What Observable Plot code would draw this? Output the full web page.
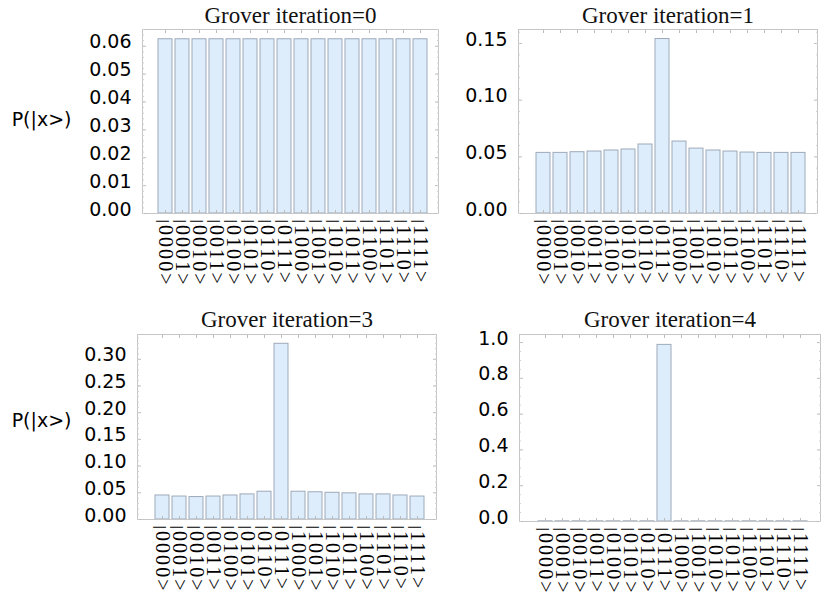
<!DOCTYPE html>
<html><head><meta charset="utf-8">
<script src="https://cdn.jsdelivr.net/npm/d3@7"></script>
<script src="https://cdn.jsdelivr.net/npm/@observablehq/plot@0.6"></script>
<style>
body{margin:0;background:#fff;}
#wrap{position:relative;width:831px;height:602px;overflow:hidden;background:#fff;}
#wrap svg{position:absolute;}
</style></head><body><div id="wrap"></div>
<script>
// ---- data ----
const states = ["|0000>","|0001>","|0010>","|0011>","|0100>","|0101>","|0110>","|0111>",
                "|1000>","|1001>","|1010>","|1011>","|1100>","|1101>","|1110>","|1111>"];
const iter0 = [0.0625,0.0625,0.0625,0.0625,0.0625,0.0625,0.0625,0.0625,
               0.0625,0.0625,0.0625,0.0625,0.0625,0.0625,0.0625,0.0625];
const iter1 = [0.0535,0.0535,0.0541,0.0547,0.0556,0.0565,0.0609,0.154,
               0.0635,0.0573,0.0556,0.0547,0.0538,0.0535,0.0535,0.0535];
const iter3 = [0.045,0.043,0.042,0.043,0.045,0.047,0.052,0.329,
               0.052,0.051,0.050,0.049,0.047,0.047,0.045,0.043];
const iter4 = [0.001,0.001,0.001,0.001,0.001,0.001,0.001,0.987,
               0.001,0.001,0.001,0.001,0.001,0.001,0.001,0.001];
const titles = ["Grover iteration=0","Grover iteration=1","Grover iteration=3","Grover iteration=4"];
const yLabel = "P(|x>)";
const ticks0 = [0,0.01,0.02,0.03,0.04,0.05,0.06];
const ticks1 = [0,0.05,0.10,0.15];
const ticks3 = [0,0.05,0.10,0.15,0.20,0.25,0.30];
const ticks4 = [0,0.2,0.4,0.6,0.8,1.0];

// ---- layout ----
const panels = [
  {values: iter0, title: titles[0], ticks: ticks0, fmt: ".2f", minor: 0.002, ymax: 0.066,
   left: 0, top: 0, width: 445, height: 300, mL: 142, mR: 7, mT: 29, mB: 87, ylab: true, ylabDy: -2, tDy: -7},
  {values: iter1, title: titles[1], ticks: ticks1, fmt: ".2f", minor: 0.01, ymax: 0.1624,
   left: 445, top: 0, width: 386, height: 300, mL: 73, mR: 14, mT: 29, mB: 87, ylab: false, tDy: -7},
  {values: iter3, title: titles[2], ticks: ticks3, fmt: ".2f", minor: 0.01, ymax: 0.3464,
   left: 0, top: 300, width: 445, height: 302, mL: 137, mR: 9, mT: 34, mB: 83, ylab: true, ylabDy: -6, tDy: -8},
  {values: iter4, title: titles[3], ticks: ticks4, fmt: ".1f", minor: 0.05, ymax: 1.045,
   left: 445, top: 300, width: 386, height: 302, mL: 74, mR: 11, mT: 34, mB: 81, ylab: false, tDy: -8}
];

const wrap = document.getElementById("wrap");
const sans = "DejaVu Sans, Liberation Sans, sans-serif";
const serif = "Liberation Serif, DejaVu Serif, serif";
const tickGrey = "#bcbcbc";

for (const c of panels) {
  const data = states.map((s, i) => ({state: s, p: c.values[i]}));
  const minorTicks = d3.range(0, c.ymax + 1e-9, c.minor);
  const marks = [
    Plot.barY(data, {x: "state", y: "p", fill: "#ddedfc", stroke: "#9ea9b8", strokeWidth: 1}),
    Plot.frame({stroke: "#c6c6c6"}),
    Plot.axisY({anchor: "left", ticks: c.ticks, tickFormat: c.fmt, tickSize: 0, tickPadding: 11, dy: -4,
                fontSize: 19, fontFamily: sans, fill: "#000", label: null}),
    Plot.axisY({anchor: "left", ticks: c.ticks, tickSize: 4, dx: 4, fill: "none", stroke: tickGrey, label: null}),
    Plot.axisY({anchor: "right", ticks: c.ticks, tickSize: 4, dx: -4, fill: "none", stroke: tickGrey, label: null}),
    Plot.axisY({anchor: "left", ticks: minorTicks, tickSize: 2, dx: 2, fill: "none", stroke: "#d0d0d0", label: null}),
    Plot.axisY({anchor: "right", ticks: minorTicks, tickSize: 2, dx: -2, fill: "none", stroke: "#d0d0d0", label: null}),
    Plot.axisX({anchor: "top", tickSize: 3, dy: 3, fill: "none", stroke: tickGrey, label: null}),
    Plot.axisX({anchor: "bottom", tickSize: 3, dy: -3, fill: "none", stroke: tickGrey, label: null}),
    Plot.axisX({anchor: "bottom", tickSize: 0, tickRotate: 90, tickPadding: 6, fontSize: 20,
                fontFamily: serif, fill: "#000", label: null}),
    Plot.text([c.title], {text: d => d, frameAnchor: "top", lineAnchor: "bottom", dy: c.tDy,
                          fontSize: 23, fontFamily: serif, fill: "#111"})
  ];
  if (c.ylab) {
    marks.push(Plot.text([yLabel], {text: d => d, frameAnchor: "left", textAnchor: "end", dx: -66 - (c.mL - 137),
                                    dy: c.ylabDy, fontSize: 19, fontFamily: sans, fill: "#000"}));
  }
  const svg = Plot.plot({
    width: c.width, height: c.height,
    marginLeft: c.mL, marginRight: c.mR, marginTop: c.mT, marginBottom: c.mB,
    x: {type: "band", domain: states, paddingInner: 0.15, paddingOuter: 0.075, insetLeft: 10, insetRight: 4},
    y: {domain: [0, c.ymax]},
    style: {background: "#fff", overflow: "visible"},
    marks
  });
  svg.style.left = c.left + "px";
  svg.style.top = c.top + "px";
  // shorten the leading "|" so the rotated bars don't merge, like the reference
  svg.querySelectorAll('g[aria-label="x-axis tick label"] text').forEach(t => {
    t.style.letterSpacing = "2.1px";
    const s = t.textContent;
    if (s.startsWith("|")) {
      t.textContent = "";
      const ns = "http://www.w3.org/2000/svg";
      const a = document.createElementNS(ns, "tspan");
      a.setAttribute("font-size", "15");
      a.setAttribute("font-weight", "bold");
      a.textContent = "|";
      const b = document.createElementNS(ns, "tspan");
      b.textContent = s.slice(1);
      t.appendChild(a);
      t.appendChild(b);
    }
  });
  wrap.appendChild(svg);
}
</script>
</body></html>
